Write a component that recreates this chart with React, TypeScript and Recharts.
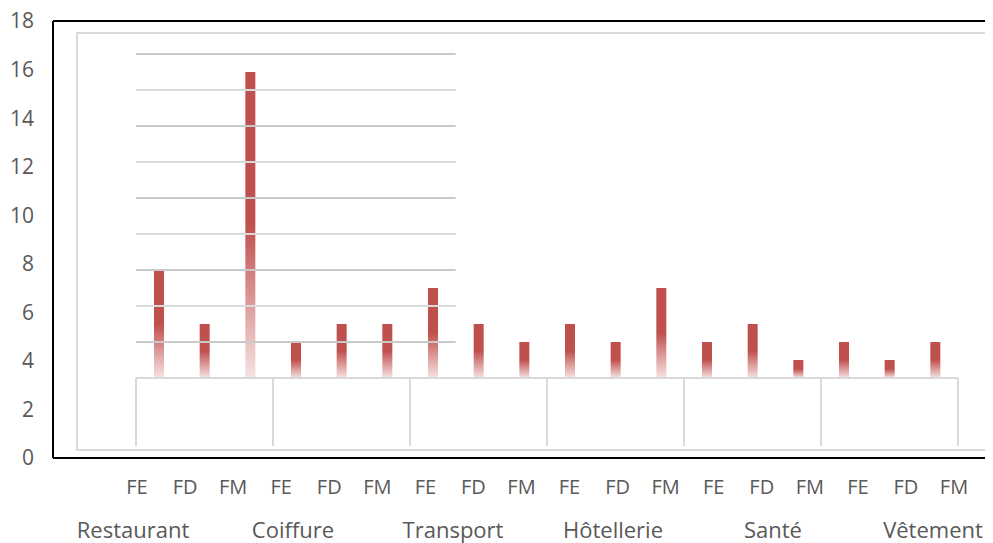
import { ComposedChart, Bar, XAxis, YAxis, ReferenceLine } from "recharts";

const groups = ["Restaurant", "Coiffure", "Transport", "Hôtellerie", "Santé", "Vêtement"];
const subLabels = ["FE", "FD", "FM"];

const feValues = [3, 1, 2.5, 1.5, 1, 1];
const fdValues = [1.5, 1.5, 1.5, 1, 1.5, 0.5];
const fmValues = [8.5, 1.5, 1, 2.5, 0.5, 1];

const outerTicks = [0, 2, 4, 6, 8, 10, 12, 14, 16, 18];
const gridLevels = [1, 2, 3, 4, 5, 6, 7, 8, 9];

const rows = groups.flatMap((g, gi) => [
  { idx: gi * 3, gi, group: g, sub: "FE", value: feValues[gi] },
  { idx: gi * 3 + 1, gi, group: g, sub: "FD", value: fdValues[gi] },
  { idx: gi * 3 + 2, gi, group: g, sub: "FM", value: fmValues[gi] },
]);

const font = "'Open Sans', 'Noto Sans', sans-serif";
const textColor = "#595959";
const lightGrey = "#D9D9D9";

const W = 993;
const H = 543;

export default function App() {
  return (
    <div style={{ position: "relative", left: -8, top: -8, width: W, height: H, overflow: "hidden", background: "#fff", fontFamily: font }}>
      {/* outer frame with the 0-18 axis */}
      <div style={{ position: "absolute", left: 0, top: 0 }}>
        <ComposedChart width={1013} height={H} data={rows} margin={{ top: 21, right: 0, left: 0, bottom: 0 }}>
          <XAxis
            xAxisId="grp"
            type="number"
            dataKey="gi"
            domain={[-0.5, 5.5]}
            allowDataOverflow
            ticks={groups.map((_, i) => i)}
            tickFormatter={(v: number) => groups[v]}
            height={41}
            axisLine={false}
            tickLine={false}
            tickSize={0}
            tickMargin={20}
            tick={{ fill: textColor, fontSize: 22, fontFamily: font }}
            interval={0}
          />
          <XAxis
            type="number"
            dataKey="idx"
            domain={[-0.5, 17.5]}
            allowDataOverflow
            ticks={rows.map((r) => r.idx)}
            tickFormatter={(v: number) => subLabels[v % 3]}
            padding={{ left: 60, right: 35 }}
            height={44}
            axisLine={{ stroke: "#000", strokeWidth: 2 }}
            tickLine={false}
            tickSize={0}
            tickMargin={22}
            tick={{ fill: textColor, fontSize: 20, fontFamily: font }}
            interval={0}
          />
          <YAxis
            type="number"
            domain={[0, 18]}
            allowDataOverflow
            ticks={outerTicks}
            width={53}
            axisLine={{ stroke: "#000", strokeWidth: 2 }}
            tickLine={false}
            tickSize={0}
            tickMargin={19}
            tick={{ fill: textColor, fontSize: 21, fontFamily: font }}
            interval={0}
          />
          <ReferenceLine y={18} stroke="#000" strokeWidth={2} ifOverflow="extendDomain" />
        </ComposedChart>
      </div>

      {/* inner chart frame */}
      <div
        style={{
          position: "absolute",
          left: 76,
          top: 32,
          width: 907,
          height: 415,
          border: `2px solid ${lightGrey}`,
        }}
      />

      {/* inner chart */}
      <div style={{ position: "absolute", left: 0, top: 0 }}>
        <ComposedChart width={W} height={H} data={rows} margin={{ top: 54, right: 35, left: 136, bottom: 95 }}>
          <defs>
            <linearGradient id="barFill" x1="0" y1="0" x2="0" y2="1">
              <stop offset="0%" stopColor="#C0504D" />
              <stop offset="50%" stopColor="#C0504D" />
              <stop offset="100%" stopColor="#F6E3E3" />
            </linearGradient>
          </defs>
          <XAxis
            type="number"
            dataKey="idx"
            domain={[-0.5, 17.5]}
            allowDataOverflow
            ticks={[-0.5, 2.5, 5.5, 8.5, 11.5, 14.5, 17.5]}
            height={70}
            axisLine={{ stroke: lightGrey, strokeWidth: 2 }}
            tickLine={{ stroke: lightGrey, strokeWidth: 2 }}
            tickSize={68}
            tick={() => <g />}
            interval={0}
          />
          <YAxis type="number" domain={[0, 9]} allowDataOverflow hide width={0} />
          {gridLevels.map((k) => (
            <ReferenceLine
              key={k}
              segment={[
                { x: -0.5, y: k },
                { x: 6.5, y: k },
              ]}
              stroke={k % 2 === 1 ? "#C9C9C9" : "#DADADA"}
              strokeWidth={2}
            />
          ))}
          <Bar dataKey="value" barSize={10} fill="url(#barFill)" isAnimationActive={false} />
        </ComposedChart>
      </div>
    </div>
  );
}
